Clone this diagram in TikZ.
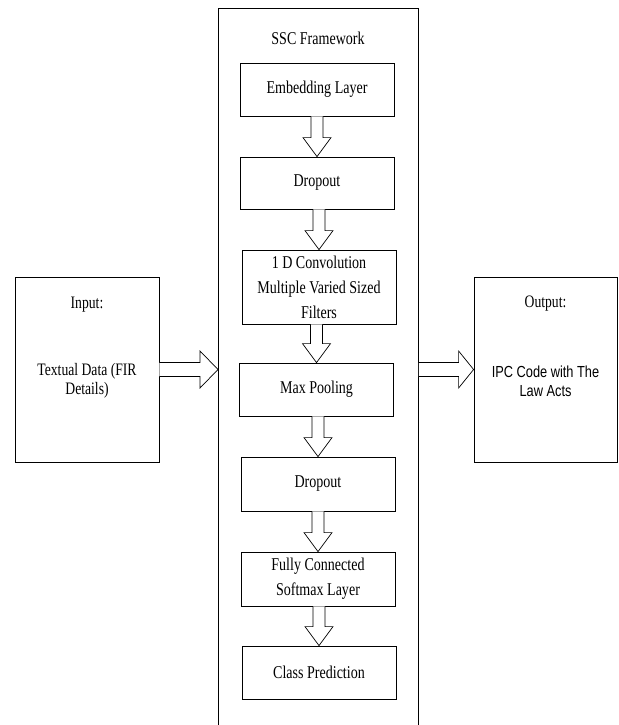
\documentclass[tikz,border=0pt]{standalone}
\usepackage{fontspec}
\setmainfont{Liberation Serif}[FakeStretch=0.78]
\newfontfamily\arialish{Liberation Sans}[FakeStretch=0.8]
\usetikzlibrary{calc}
\begin{document}
\begin{tikzpicture}[x=1pt,y=-1pt,
  box/.style={draw,line width=0.8pt,minimum width=154pt,inner sep=0pt,align=center,
    font=\fontsize{18}{25}\selectfont},
  sidebox/.style={draw,line width=0.8pt,minimum width=144pt,minimum height=185pt,inner sep=0pt},
  txt/.style={inner sep=0pt,align=center,font=\fontsize{17.5}{18.5}\selectfont},
  blk/.style={draw,line width=0.7pt,fill=white,line join=miter}]
\useasboundingbox (0,0) rectangle (618,725);
% frame
\node[draw,line width=0.8pt,minimum width=200pt,minimum height=727pt,inner sep=0pt,anchor=north west] (frame) at (218,8) {};
\node[txt,font=\fontsize{18}{20}\selectfont] (title) at (318,38) {SSC Framework};
% inner boxes
\node[box,minimum height=53pt] (emb) at (317,89.5) {Embedding Layer};
\node[box,minimum height=52pt] (drop1) at (317,183) {Dropout};
\node[box,minimum height=74pt] (conv) at (319,287) {1 D Convolution\\Multiple Varied Sized\\Filters};
\node[box,minimum height=53pt] (pool) at (316.5,389.5) {Max Pooling};
\node[box,minimum height=54pt] (drop2) at (318,484) {Dropout};
\node[box,minimum height=54pt] (fc) at (318,579) {Fully Connected\\Softmax Layer};
\node[box,minimum height=53pt] (cls) at (319,672.5) {Class Prediction};
% side boxes
\node[sidebox] (in) at (87,369.5) {};
\node[txt] (inlbl) at (87,305) {Input:};
\node[txt] (intxt) at (87,381) {Textual Data (FIR\\Details)};
\node[sidebox,minimum width=143pt] (out) at (545.5,369.5) {};
\node[txt] (outlbl) at (545.5,304) {Output:};
\node[txt,font=\arialish\fontsize{16}{19}\selectfont] (outtxt) at (545.5,381) {IPC Code with The\\Law Acts};
% vertical block arrows
\newcommand{\varrow}[2]{%
  \draw[blk] ($(#1.south -| #2.north)+(-6,0)$) -- ($(#2.north)+(-6,-19)$) -- ($(#2.north)+(-14,-19)$)
    -- (#2.north) -- ($(#2.north)+(14,-19)$) -- ($(#2.north)+(6,-19)$) -- ($(#1.south -| #2.north)+(6,0)$);}
\varrow{emb}{drop1}
\varrow{drop1}{conv}
\varrow{conv}{pool}
\varrow{pool}{drop2}
\varrow{drop2}{fc}
\varrow{fc}{cls}
% horizontal block arrows
\coordinate (intip) at (in.east -| frame.west);
\draw[blk] ($(in.east)+(0,-7)$) -- ($(intip)+(-18,-7)$) -- ($(intip)+(-18,-18.5)$) -- (intip)
  -- ($(intip)+(-18,18.5)$) -- ($(intip)+(-18,7)$) -- ($(in.east)+(0,7)$);
\coordinate (outstart) at (out.west -| frame.east);
\draw[blk] ($(outstart)+(0,-7)$) -- ($(out.west)+(-15,-7)$) -- ($(out.west)+(-15,-18.5)$) -- (out.west)
  -- ($(out.west)+(-15,18.5)$) -- ($(out.west)+(-15,7)$) -- ($(outstart)+(0,7)$);
\end{tikzpicture}
\end{document}
